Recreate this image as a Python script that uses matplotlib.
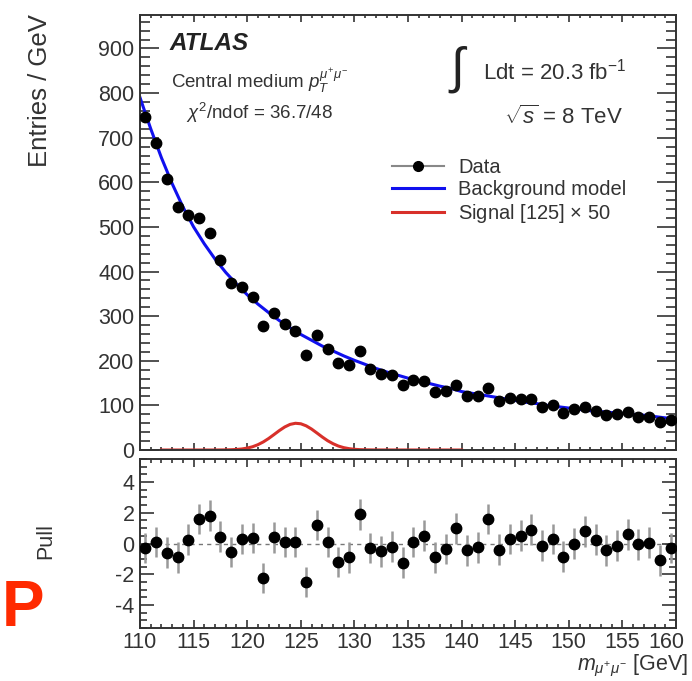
import numpy as np
import matplotlib
matplotlib.use("Agg")
import matplotlib.pyplot as plt
import matplotlib.transforms as mtransforms
from matplotlib.lines import Line2D
from matplotlib.ticker import MultipleLocator

plt.rcParams['font.family'] = ['Liberation Sans', 'DejaVu Sans']
plt.rcParams['mathtext.fontset'] = 'custom'
plt.rcParams['mathtext.rm'] = 'Liberation Sans'
plt.rcParams['mathtext.it'] = 'Liberation Sans:italic'
plt.rcParams['axes.unicode_minus'] = False

# bin centres [GeV]
masse = np.arange(110.5, 160, 1.0)

# observerte hendelser per GeV
data = [747, 687, 608, 544, 526, 519, 486, 425, 374, 366,
        344, 279, 306, 282, 267, 213, 258, 226, 196, 190,
        222, 181, 170, 168, 146, 157, 155, 131, 133, 145,
        121, 120, 140, 110, 116, 114, 114, 97, 101, 84,
        91, 97, 88, 79, 80, 85, 74, 74, 63, 67]

# pull per bin
pull = [-0.3, 0.1, -0.6, -0.9, 0.25, 1.6, 1.8, 0.45, -0.55, 0.3,
        0.35, -2.25, 0.4, 0.1, 0.1, -2.5, 1.2, 0.1, -1.2, -0.9,
        1.9, -0.3, -0.5, -0.2, -1.25, 0.1, 0.5, -0.9, -0.35, 1.0,
        -0.45, -0.25, 1.6, -0.4, 0.3, 0.5, 0.9, -0.15, 0.3, -0.85,
        0.0, 0.8, 0.25, -0.45, -0.15, 0.6, -0.05, 0.05, -1.1, -0.3]

# bakgrunnsmodell lest av kurven, hver GeV fra 110 til 160
bkg_x = np.arange(110, 161, 1)
bkg_y = [790, 720, 655, 597, 545, 500, 462, 428, 398, 372,
         348, 327, 308, 290, 274, 259, 246, 233, 222, 211,
         201, 192, 183, 175, 168, 161, 155, 149, 143, 138,
         131, 127, 123, 119, 115, 111, 107, 104, 100, 97,
         94, 91, 88, 86, 84, 82, 80, 78, 75, 72, 70]

# signal (x 50)
sig_x = [112, 117, 118, 118.5, 119, 119.5, 120, 120.5, 121, 121.5, 122, 122.5,
         123, 123.5, 124, 124.5, 125, 125.5, 126, 126.5, 127, 127.5, 128,
         128.5, 129, 129.5, 130, 130.5, 131, 132, 140]
sig_y = [0, 0, 0.3, 0.6, 1.2, 2.3, 4.3, 7.3, 11.9, 18.1, 25.8, 34.6,
         43.6, 51.6, 57.4, 59.9, 58.8, 54.2, 47, 38.2, 29.2, 20.9, 14.2,
         8.9, 5.3, 3.0, 1.6, 0.8, 0.4, 0.1, 0]

W, H = 692, 681
fig = plt.figure(figsize=(W / 100, H / 100), dpi=100)

def boks(x0, y0, x1, y1):
    return [x0 / W, 1 - y1 / H, (x1 - x0) / W, (y1 - y0) / H]

ax = fig.add_axes(boks(140, 15, 676, 450))
ax2 = fig.add_axes(boks(140, 459, 676, 628))
tekst = '#333333'

# ovre panel
ax.plot(bkg_x, bkg_y, color='#1010ee', lw=2.2, zorder=2)
ax.plot(sig_x, sig_y, color='#d8302a', lw=2.2, zorder=2)
ax.plot(masse, data, 'o', color='black', ms=7.5, zorder=3)
ax.set_xlim(110, 160)
ax.set_ylim(0, 975)
ax.xaxis.set_major_locator(MultipleLocator(5))
ax.xaxis.set_minor_locator(MultipleLocator(1))
ax.yaxis.set_major_locator(MultipleLocator(100))
ax.yaxis.set_minor_locator(MultipleLocator(20))
ax.tick_params(axis='both', which='both', direction='in', top=True, right=True,
               labelsize=15.5, colors=tekst, labelcolor=tekst)
ax.tick_params(axis='y', which='major', length=14, width=1.2, pad=4)
ax.tick_params(axis='y', which='minor', length=7, width=1.2)
ax.tick_params(axis='x', which='major', length=5, width=1.2)
ax.tick_params(axis='x', which='minor', length=2.5, width=1.2)
ax.tick_params(axis='x', labelbottom=False)
for s in ax.spines.values():
    s.set_linewidth(1.4)
    s.set_color(tekst)

handles = [Line2D([], [], color='#888888', lw=1.5, marker='o', ms=7,
                  mfc='black', mec='black'),
           Line2D([], [], color='#1010ee', lw=2.2),
           Line2D([], [], color='#d8302a', lw=2.2)]
labels = ['Data', 'Background model', 'Signal [125] $\\times$ 50']
ax.legend(handles, labels, loc='upper left', bbox_to_anchor=(0.455, 0.69),
          frameon=False, fontsize=14.5, handlelength=2.6, handletextpad=0.7,
          labelspacing=0.15, labelcolor=tekst, borderaxespad=0)

ax.text(0.055, 0.935, 'ATLAS', transform=ax.transAxes, fontsize=17.5,
        fontweight='bold', fontstyle='italic', color='#222222', va='center')
ax.text(0.058, 0.85, 'Central medium $p_{T}^{\\mu^{+}\\mu^{-}}$',
        transform=ax.transAxes, fontsize=13.5, color=tekst, va='center')
ax.text(0.085, 0.775, '$\\chi^{2}$/ndof = 36.7/48', transform=ax.transAxes,
        fontsize=13.5, color=tekst, va='center')
ax.text(0.575, 0.875, '$\\int$', transform=ax.transAxes, fontsize=36,
        color='#222222', va='center')
ax.text(0.64, 0.87, 'Ldt = 20.3 fb$^{-1}$', transform=ax.transAxes,
        fontsize=16, color=tekst, va='center')
ax.text(0.68, 0.765, '$\\sqrt{s}$ = 8 TeV', transform=ax.transAxes,
        fontsize=16, color=tekst, va='center')

fig.text(40 / W, 1 - 14 / H, 'Entries / GeV', rotation=90, fontsize=18.5,
         color=tekst, ha='center', va='top')

# pull-panel
ax2.axhline(0, color='#777777', lw=1, ls=(0, (3, 3)), zorder=1)
ax2.errorbar(masse, pull, yerr=1, fmt='o', color='black', ms=7.5,
             ecolor='#999999', elinewidth=1.8, capsize=0, zorder=3)
ax2.set_xlim(110, 160)
ax2.set_ylim(-5.5, 5.5)
ax2.set_xticks(np.arange(110, 161, 5))
ax2.xaxis.set_minor_locator(MultipleLocator(1))
ax2.yaxis.set_major_locator(MultipleLocator(2))
ax2.yaxis.set_minor_locator(MultipleLocator(0.5))
ax2.tick_params(axis='both', which='both', direction='in', top=True, right=True,
                labelsize=15.5, colors=tekst, labelcolor=tekst)
ax2.tick_params(axis='y', which='major', length=10, width=1.2, pad=4)
ax2.tick_params(axis='y', which='minor', length=5, width=1.2)
ax2.tick_params(axis='x', which='major', length=6, width=1.2, pad=3)
ax2.tick_params(axis='x', which='minor', length=3, width=1.2)
for s in ax2.spines.values():
    s.set_linewidth(1.4)
    s.set_color(tekst)

# siste tallet (160) flyttes litt til venstre, som i originalen
siste = ax2.xaxis.get_major_ticks()[-1].label1
siste.set_transform(siste.get_transform() +
                    mtransforms.ScaledTranslation(-0.1, 0, fig.dpi_scale_trans))

fig.text(46 / W, 1 - 541 / H, 'Pull', rotation=90, fontsize=15.5,
         color=tekst, ha='center', va='center')
fig.text(688 / W, 1 - 679 / H, '$m_{\\mu^{+}\\mu^{-}}$ [GeV]', fontsize=15.5,
         color=tekst, ha='right', va='bottom')

# rod bokstav i margen
fig.text(2 / W, 1 - 609 / H, 'P', color='#ff2a00', fontsize=46,
         fontweight='bold', va='center', ha='left')

fig.savefig('out.png', dpi=100)
